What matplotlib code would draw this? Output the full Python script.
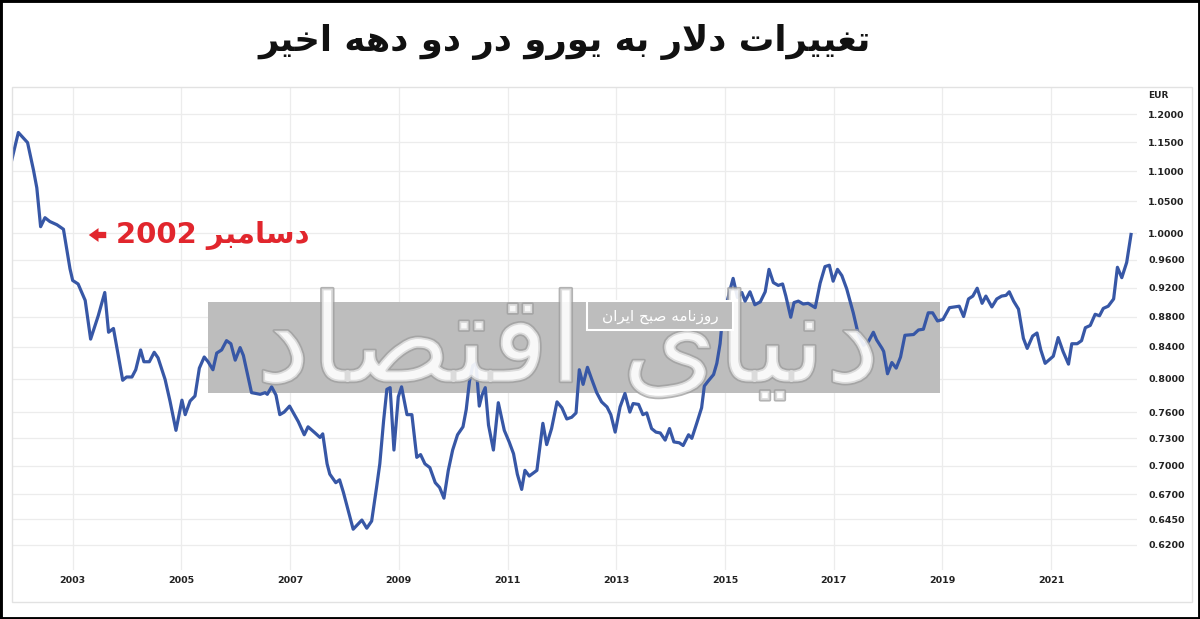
import matplotlib.pyplot as plt
import matplotlib.patheffects as pe
from matplotlib.patches import Rectangle
from matplotlib.ticker import NullLocator

# USD -> EUR (decimal year, rate)
years = [
    2001.88, 2002.00, 2002.17, 2002.28, 2002.34, 2002.41, 2002.49, 2002.58, 2002.71, 2002.83,
    2002.95, 2003.00, 2003.10, 2003.23, 2003.33, 2003.47, 2003.59, 2003.66, 2003.75, 2003.92,
    2003.99, 2004.09, 2004.16, 2004.25, 2004.31, 2004.41, 2004.50, 2004.57, 2004.70, 2004.79,
    2004.90, 2005.01, 2005.07, 2005.16, 2005.25, 2005.33, 2005.42, 2005.49, 2005.58, 2005.65,
    2005.74, 2005.83, 2005.91, 2005.99, 2006.08, 2006.14, 2006.29, 2006.45, 2006.54, 2006.58,
    2006.66, 2006.74, 2006.81, 2006.89, 2006.99, 2007.06, 2007.15, 2007.26, 2007.33, 2007.46,
    2007.55, 2007.60, 2007.68, 2007.73, 2007.84, 2007.91, 2007.98, 2008.16, 2008.32, 2008.41,
    2008.50, 2008.59, 2008.65, 2008.72, 2008.78, 2008.84, 2008.91, 2008.99, 2009.05, 2009.15,
    2009.24, 2009.33, 2009.40, 2009.48, 2009.57, 2009.67, 2009.75, 2009.83, 2009.91, 2009.99,
    2010.08, 2010.18, 2010.24, 2010.30, 2010.36, 2010.42, 2010.48, 2010.53, 2010.59, 2010.65,
    2010.74, 2010.83, 2010.94, 2011.03, 2011.11, 2011.18, 2011.26, 2011.32, 2011.40, 2011.54,
    2011.65, 2011.72, 2011.81, 2011.91, 2012.00, 2012.09, 2012.18, 2012.26, 2012.32, 2012.39,
    2012.47, 2012.55, 2012.64, 2012.73, 2012.83, 2012.90, 2012.98, 2013.07, 2013.16, 2013.25,
    2013.31, 2013.41, 2013.49, 2013.56, 2013.65, 2013.73, 2013.81, 2013.90, 2013.98, 2014.06,
    2014.16, 2014.23, 2014.33, 2014.39, 2014.48, 2014.57, 2014.62, 2014.69, 2014.79, 2014.85,
    2014.91, 2014.96, 2015.02, 2015.08, 2015.15, 2015.23, 2015.31, 2015.37, 2015.46, 2015.55,
    2015.65, 2015.74, 2015.81, 2015.89, 2015.98, 2016.06, 2016.12, 2016.21, 2016.27, 2016.35,
    2016.44, 2016.53, 2016.66, 2016.75, 2016.84, 2016.92, 2016.99, 2017.07, 2017.15, 2017.24,
    2017.36, 2017.45, 2017.55, 2017.64, 2017.73, 2017.79, 2017.89, 2017.92, 2017.99, 2018.07,
    2018.15, 2018.23, 2018.31, 2018.47, 2018.56, 2018.65, 2018.74, 2018.82, 2018.91, 2019.01,
    2019.13, 2019.31, 2019.39, 2019.48, 2019.56, 2019.64, 2019.73, 2019.80, 2019.91, 2020.00,
    2020.09, 2020.17, 2020.23, 2020.31, 2020.40, 2020.49, 2020.56, 2020.66, 2020.74, 2020.81,
    2020.89, 2021.04, 2021.13, 2021.22, 2021.32, 2021.38, 2021.48, 2021.56, 2021.63, 2021.72,
    2021.81, 2021.89, 2021.96, 2022.05, 2022.15, 2022.22, 2022.30, 2022.39, 2022.47,
]
usd_eur = [
    1.119, 1.167, 1.149, 1.101, 1.072, 1.010, 1.024, 1.018, 1.013, 1.006,
    0.947, 0.930, 0.925, 0.902, 0.850, 0.881, 0.913, 0.859, 0.864, 0.798,
    0.802, 0.802, 0.811, 0.836, 0.821, 0.821, 0.833, 0.826, 0.799, 0.773,
    0.739, 0.774, 0.757, 0.773, 0.779, 0.813, 0.827, 0.821, 0.811, 0.832,
    0.836, 0.848, 0.844, 0.823, 0.839, 0.829, 0.783, 0.781, 0.783, 0.781,
    0.790, 0.780, 0.757, 0.760, 0.767, 0.759, 0.749, 0.734, 0.743, 0.736,
    0.731, 0.735, 0.702, 0.691, 0.682, 0.685, 0.672, 0.635, 0.644, 0.636,
    0.643, 0.677, 0.702, 0.750, 0.787, 0.789, 0.717, 0.778, 0.790, 0.757,
    0.757, 0.709, 0.712, 0.702, 0.698, 0.682, 0.677, 0.666, 0.695, 0.717,
    0.734, 0.743, 0.763, 0.797, 0.816, 0.819, 0.767, 0.780, 0.789, 0.745,
    0.717, 0.771, 0.739, 0.726, 0.713, 0.691, 0.675, 0.695, 0.689, 0.695,
    0.747, 0.723, 0.741, 0.772, 0.765, 0.752, 0.754, 0.759, 0.811, 0.793,
    0.814, 0.799, 0.783, 0.772, 0.766, 0.757, 0.737, 0.766, 0.782, 0.760,
    0.770, 0.769, 0.757, 0.759, 0.741, 0.737, 0.736, 0.728, 0.741, 0.726,
    0.725, 0.722, 0.734, 0.730, 0.747, 0.765, 0.791, 0.797, 0.805, 0.819,
    0.844, 0.883, 0.894, 0.913, 0.933, 0.906, 0.913, 0.901, 0.914, 0.896,
    0.900, 0.914, 0.946, 0.927, 0.923, 0.925, 0.908, 0.879, 0.899, 0.901,
    0.897, 0.898, 0.892, 0.926, 0.950, 0.952, 0.929, 0.946, 0.937, 0.918,
    0.885, 0.857, 0.842, 0.847, 0.859, 0.849, 0.838, 0.834, 0.806, 0.820,
    0.813, 0.827, 0.855, 0.856, 0.862, 0.863, 0.885, 0.885, 0.874, 0.876,
    0.892, 0.894, 0.880, 0.904, 0.908, 0.919, 0.898, 0.908, 0.893, 0.904,
    0.908, 0.909, 0.914, 0.901, 0.890, 0.851, 0.838, 0.854, 0.858, 0.836,
    0.819, 0.828, 0.852, 0.834, 0.818, 0.844, 0.844, 0.848, 0.865, 0.868,
    0.883, 0.881, 0.891, 0.894, 0.904, 0.949, 0.934, 0.956, 0.998,
]

y_ticks = [1.2, 1.15, 1.1, 1.05, 1.0, 0.96, 0.92, 0.88, 0.84, 0.8,
           0.76, 0.73, 0.7, 0.67, 0.645, 0.62]
x_ticks = [2003, 2005, 2007, 2009, 2011, 2013, 2015, 2017, 2019, 2021]

title = 'تغییرات دلار به یورو در دو دهه اخیر'
note = 'دسامبر 2002'
brand = 'دنیای اقتصاد'
brand_sub = 'روزنامه صبح ایران'

# --- minimal Persian shaping (matplotlib has no RTL/joining support) ---
FORMS = {
    'ا': ('\uFE8D', '\uFE8E'),
    'ب': ('\uFE8F', '\uFE90', '\uFE91', '\uFE92'),
    'ت': ('\uFE95', '\uFE96', '\uFE97', '\uFE98'),
    'ح': ('\uFEA1', '\uFEA2', '\uFEA3', '\uFEA4'),
    'خ': ('\uFEA5', '\uFEA6', '\uFEA7', '\uFEA8'),
    'د': ('\uFEA9', '\uFEAA'),
    'ر': ('\uFEAD', '\uFEAE'),
    'ز': ('\uFEAF', '\uFEB0'),
    'س': ('\uFEB1', '\uFEB2', '\uFEB3', '\uFEB4'),
    'ص': ('\uFEB9', '\uFEBA', '\uFEBB', '\uFEBC'),
    'غ': ('\uFECD', '\uFECE', '\uFECF', '\uFED0'),
    'ق': ('\uFED5', '\uFED6', '\uFED7', '\uFED8'),
    'ل': ('\uFEDD', '\uFEDE', '\uFEDF', '\uFEE0'),
    'م': ('\uFEE1', '\uFEE2', '\uFEE3', '\uFEE4'),
    'ن': ('\uFEE5', '\uFEE6', '\uFEE7', '\uFEE8'),
    'ه': ('\uFEE9', '\uFEEA', '\uFEEB', '\uFEEC'),
    'و': ('\uFEED', '\uFEEE'),
    'ی': ('\uFBFC', '\uFBFD', '\uFBFE', '\uFBFF'),
}


def dual(c):
    return c in FORMS and len(FORMS[c]) == 4


def shape(word):
    out, i = [], 0
    while i < len(word):
        c = word[i]
        if c not in FORMS:
            out.append(c)
            i += 1
            continue
        prev_joins = i > 0 and dual(word[i - 1])
        if c == 'ل' and i + 1 < len(word) and word[i + 1] == 'ا':
            out.append('\uFEFC' if prev_joins else '\uFEFB')
            i += 2
            continue
        next_joins = dual(c) and i + 1 < len(word) and word[i + 1] in FORMS
        f = FORMS[c]
        if prev_joins and next_joins:
            out.append(f[3])
        elif prev_joins:
            out.append(f[1])
        elif next_joins:
            out.append(f[2])
        else:
            out.append(f[0])
        i += 1
    return ''.join(out)


def rtl(text):
    words = [w if w.isdigit() else shape(w)[::-1] for w in text.split(' ')]
    return ' '.join(words[::-1])


W, H = 1200, 619
fig = plt.figure(figsize=(W / 100, H / 100), dpi=100)
fig.patch.set_facecolor('white')


def fx(px):
    return px / W


def fy(py):
    return 1 - py / H


ax = fig.add_axes([fx(11.7), fy(570), fx(1137 - 11.7), (570 - 88) / H])
ax.set_yscale('log')
ax.plot(years, usd_eur, color='#3757a6', lw=2.3, solid_joinstyle='round', zorder=4)

ax.set_xlim(2001.878, 2022.58)
ax.set_ylim(0.5965, 1.2494)
ax.yaxis.set_minor_locator(NullLocator())
ax.set_yticks(y_ticks)
ax.set_yticklabels([f'{v:.4f}' for v in y_ticks])
ax.set_xticks(x_ticks)
ax.set_xticklabels([str(y) for y in x_ticks])
ax.yaxis.tick_right()
ax.tick_params(axis='y', length=0, pad=8, labelsize=6.8, labelcolor='#222222')
ax.tick_params(axis='x', length=0, pad=4, labelsize=6.8, labelcolor='#222222')
for lab in ax.get_xticklabels() + ax.get_yticklabels():
    lab.set_fontweight('bold')
ax.grid(True, color='#ececec', lw=0.9)
ax.set_axisbelow(True)
for s in ax.spines.values():
    s.set_visible(False)

# watermark band
ax.add_patch(Rectangle((fx(208), fy(393)), fx(940 - 208), (393 - 302) / H,
                       transform=fig.transFigure, facecolor='#bdbdbd',
                       edgecolor='none', zorder=1, clip_on=False))
ax.text(fx(568), fy(348), rtl(brand), transform=fig.transFigure, ha='center',
        va='center', fontsize=88, color='white', alpha=0.55, zorder=5,
        path_effects=[pe.withStroke(linewidth=2.5, foreground='#a0a0a0', alpha=0.8)])
ax.add_patch(Rectangle((fx(587), fy(330)), fx(733 - 587), (330 - 301) / H,
                       transform=fig.transFigure, facecolor='#bdbdbd',
                       edgecolor='white', lw=1.5, zorder=6, clip_on=False))
ax.text(fx(660), fy(316), rtl(brand_sub), transform=fig.transFigure, ha='center',
        va='center', fontsize=11, color='white', zorder=7)

# annotation
red = '#e1262d'
fig.text(fx(116), fy(236), rtl(note), ha='left', va='center', fontsize=21,
         fontweight='bold', color=red)
ax.annotate('', xy=(86, H - 235), xytext=(109, H - 235), xycoords='figure pixels',
            textcoords='figure pixels',
            arrowprops=dict(arrowstyle='simple,head_width=1.0,head_length=0.7,tail_width=0.45',
                            color=red, lw=0))

fig.text(fx(1148), fy(96), 'EUR', ha='left', va='center', fontsize=6.5,
         fontweight='bold', color='#222222')

# title
fig.text(fx(565), fy(42), rtl(title), ha='center', va='center', fontsize=25.5,
         fontweight='bold', color='#111111')

# panel box and outer frame
fig.patches.append(Rectangle((fx(11.7), fy(602)), fx(1192 - 11.7), (602 - 87) / H,
                             transform=fig.transFigure, fill=False,
                             edgecolor='#e2e2e2', lw=1, zorder=0))
fig.patches.append(Rectangle((0, 0), 1, 1, transform=fig.transFigure, fill=False,
                             edgecolor='black', lw=3.5, zorder=10))

fig.savefig('out.png', dpi=100, facecolor='white')
